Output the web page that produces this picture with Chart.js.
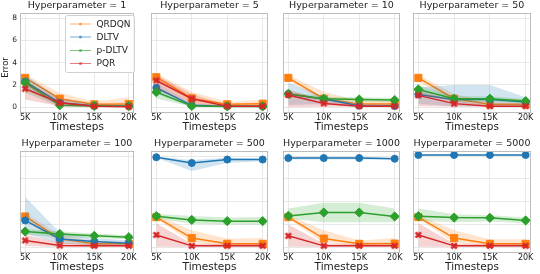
<!DOCTYPE html>
<html>
<head>
<meta charset="utf-8">
<script src="https://cdn.jsdelivr.net/npm/chart.js@4.4.0/dist/chart.umd.min.js"></script>
<style>
  body { margin: 0; background: #fff; width: 540px; height: 274px; overflow: hidden; position: relative; }
  canvas { position: absolute; }
</style>
</head>
<body>
<script>
// ---- data ----
const hyperparams = [1, 5, 10, 50, 100, 500, 1000, 5000];
const timesteps = [5000, 10000, 15000, 20000];
const xTickLabels = ['5K', '10K', '15K', '20K'];
const yTicks = [0, 2, 4, 6, 8];
const methods = ['QRDQN', 'DLTV', 'p-DLTV', 'PQR'];

// one row per hyperparameter panel
const qrdqnMean = [
  [2.64, 0.77, 0.27, 0.30], [2.70, 0.80, 0.27, 0.33], [2.64, 0.77, 0.30, 0.30], [2.64, 0.77, 0.27, 0.27],
  [2.70, 0.73, 0.30, 0.30], [2.64, 0.80, 0.30, 0.30], [2.64, 0.76, 0.30, 0.32], [2.64, 0.80, 0.30, 0.30]];
const qrdqnLow = [
  [2.30, 0.30, 0.10, 0.05], [2.20, 0.30, 0.10, 0.10], [2.40, 0.50, 0.10, 0.10], [2.30, 0.50, 0.10, 0.10],
  [2.30, 0.40, 0.10, 0.10], [2.50, 0.40, 0.10, 0.10], [2.50, 0.40, 0.10, 0.10], [2.50, 0.40, 0.10, 0.10]];
const qrdqnHigh = [
  [2.95, 1.30, 0.50, 0.90], [3.00, 1.40, 0.50, 0.65], [2.90, 1.40, 0.60, 0.60], [2.90, 1.20, 0.50, 0.50],
  [3.00, 1.10, 0.50, 0.50], [2.80, 1.50, 0.75, 0.80], [2.80, 1.50, 0.60, 0.80], [2.80, 1.50, 0.70, 0.70]];

const dltvMean = [
  [2.30, 0.40, 0.15, 0.12], [1.75, 0.18, 0.10, 0.10], [1.20, 0.75, 0.15, 0.12], [1.15, 0.70, 0.70, 0.47],
  [2.35, 0.73, 0.50, 0.35], [7.90, 7.40, 7.70, 7.70], [7.83, 7.83, 7.83, 7.77], [8.10, 8.10, 8.10, 8.10]];
const dltvLow = [
  [1.60, 0.15, 0.05, 0.05], [1.20, 0.05, 0.03, 0.03], [0.20, 0.30, 0.05, 0.05], [0.30, 0.10, 0.10, 0.10],
  [1.20, 0.30, 0.20, 0.15], [7.85, 6.70, 7.40, 7.55], [7.70, 7.70, 7.70, 7.70], [8.05, 8.05, 8.05, 8.05]];
const dltvHigh = [
  [2.90, 0.80, 0.30, 0.20], [2.20, 0.30, 0.20, 0.20], [2.20, 1.00, 0.30, 0.25], [1.80, 2.00, 2.00, 0.90],
  [4.40, 1.30, 0.80, 0.60], [7.95, 7.65, 7.85, 7.80], [7.95, 7.95, 7.95, 7.85], [8.15, 8.15, 8.15, 8.15]];

const pdltvMean = [
  [2.20, 0.18, 0.12, 0.10], [1.36, 0.12, 0.08, 0.08], [1.20, 0.77, 0.70, 0.65], [1.60, 0.77, 0.77, 0.56],
  [1.38, 1.17, 1.00, 0.88], [2.73, 2.40, 2.29, 2.29], [2.75, 3.05, 3.05, 2.70], [2.73, 2.60, 2.58, 2.35]];
const pdltvLow = [
  [1.30, 0.05, 0.05, 0.05], [0.80, 0.05, 0.03, 0.03], [0.90, 0.60, 0.50, 0.45], [1.20, 0.50, 0.50, 0.40],
  [1.10, 0.90, 0.80, 0.70], [2.50, 2.05, 2.00, 2.00], [2.50, 2.20, 2.20, 2.20], [2.30, 2.20, 2.25, 2.10]];
const pdltvHigh = [
  [2.50, 0.35, 0.20, 0.15], [1.80, 0.20, 0.15, 0.15], [1.40, 0.95, 0.90, 0.85], [2.00, 1.00, 1.00, 0.75],
  [1.60, 1.40, 1.20, 1.05], [2.95, 2.75, 2.60, 2.65], [3.40, 3.90, 3.90, 3.40], [3.40, 2.90, 2.80, 2.60]];

const pqrMean = [
  [1.66, 0.40, 0.10, 0.06], [2.40, 0.77, 0.10, 0.10], [1.10, 0.35, 0.10, 0.10], [1.07, 0.33, 0.10, 0.10],
  [0.59, 0.15, 0.12, 0.12], [1.08, 0.12, 0.12, 0.12], [1.00, 0.12, 0.12, 0.12], [1.08, 0.12, 0.12, 0.12]];
const pqrLow = [
  [0.70, 0.10, 0.02, 0.02], [1.60, 0.30, 0.03, 0.03], [0.00, 0.05, 0.03, 0.03], [0.10, 0.05, 0.03, 0.03],
  [0.10, 0.03, 0.03, 0.03], [0.05, 0.03, 0.03, 0.03], [0.05, 0.03, 0.03, 0.03], [0.05, 0.03, 0.03, 0.03]];
const pqrHigh = [
  [2.30, 0.70, 0.20, 0.12], [2.90, 1.20, 0.20, 0.20], [1.60, 0.60, 0.20, 0.20], [1.50, 0.60, 0.20, 0.20],
  [1.10, 0.40, 0.25, 0.25], [2.10, 0.30, 0.30, 0.30], [2.00, 0.30, 0.30, 0.30], [2.10, 0.30, 0.30, 0.30]];

const means = [qrdqnMean, dltvMean, pdltvMean, pqrMean];
const lows = [qrdqnLow, dltvLow, pdltvLow, pqrLow];
const highs = [qrdqnHigh, dltvHigh, pdltvHigh, pqrHigh];

// ---- styling ----
const colors = ['#ff7f0e', '#1f77b4', '#2ca02c', '#d62728'];
const legendColors = ['rgba(255,127,14,0.6)', 'rgba(31,119,180,0.6)', 'rgba(44,160,44,0.6)', 'rgba(214,39,40,0.6)'];
const bands = ['rgba(255,127,14,0.2)', 'rgba(31,119,180,0.2)', 'rgba(44,160,44,0.2)', 'rgba(214,39,40,0.2)'];
const FONT = "'DejaVu Sans', sans-serif";

function makeX(color, size, lw) {
  const c = document.createElement('canvas');
  c.width = size; c.height = size;
  const g = c.getContext('2d');
  const e = lw / 2;
  g.strokeStyle = color; g.lineWidth = lw;
  g.beginPath();
  g.moveTo(e, e); g.lineTo(size - e, size - e);
  g.moveTo(size - e, e); g.lineTo(e, size - e);
  g.stroke();
  return c;
}
const markers = ['rect', 'circle', 'rectRot', makeX(colors[3], 8, 2.6)];
const markerRadius = [5, 3.5, 4.6, 4];

const plotLeft = [20, 151, 283, 413];
const plotRight = [136, 270, 402, 533];
const rowTop = [13, 151];
const rowBottom = [112, 252];

function pts(arr) {
  return timesteps.map((t, i) => ({ x: t, y: arr[i] }));
}

const panelDecor = {
  id: 'panelDecor',
  afterDatasetsDraw(chart, args, opts) {
    const a = chart.chartArea, ctx = chart.ctx;
    ctx.save();
    ctx.strokeStyle = '#bdbdbd';
    ctx.lineWidth = 1;
    ctx.strokeRect(Math.round(a.left) + 0.5, Math.round(a.top) + 0.5,
      Math.round(a.right - a.left) - 1, Math.round(a.bottom - a.top));
    ctx.restore();
  },
  afterDraw(chart, args, opts) {
    const a = chart.chartArea, ctx = chart.ctx;
    ctx.save();
    ctx.fillStyle = '#222';
    ctx.textAlign = 'center';
    ctx.textBaseline = 'middle';
    ctx.font = '9.5px ' + FONT;
    ctx.fillText(opts.title, (a.left + a.right) / 2, a.top - 7.5);
    ctx.font = '10.5px ' + FONT;
    ctx.fillText('Timesteps', (a.left + a.right) / 2, a.bottom + 15.5);
    if (opts.yLabel) {
      ctx.translate(6, (a.top + a.bottom) / 2 + 5);
      ctx.rotate(-Math.PI / 2);
      ctx.font = '8.5px ' + FONT;
      ctx.fillText('Error', 0, 0);
    }
    ctx.restore();
    if (opts.legend) drawLegend(chart);
  }
};

function drawLegend(chart) {
  const ctx = chart.ctx;
  ctx.save();
  ctx.fillStyle = 'rgba(255,255,255,0.85)';
  ctx.strokeStyle = '#d0d0d0';
  ctx.lineWidth = 1;
  ctx.beginPath();
  ctx.roundRect(65.5, 15.5, 69, 57, 2);
  ctx.fill();
  ctx.stroke();
  const rows = [24, 37, 50.5, 63.5];
  methods.forEach((m, k) => {
    const y = rows[k];
    ctx.strokeStyle = legendColors[k];
    ctx.lineWidth = 1;
    ctx.beginPath();
    ctx.moveTo(70, y); ctx.lineTo(91, y);
    ctx.stroke();
    ctx.fillStyle = legendColors[k];
    ctx.beginPath();
    ctx.arc(80.5, y, 1.6, 0, Math.PI * 2);
    ctx.fill();
    ctx.fillStyle = '#222';
    ctx.font = '9px ' + FONT;
    ctx.textAlign = 'left';
    ctx.textBaseline = 'middle';
    ctx.fillText(m, 96.5, y + 0.5);
  });
  ctx.restore();
}

hyperparams.forEach((h, p) => {
  const r = Math.floor(p / 4), c = p % 4;
  const left = c === 0 ? 0 : plotLeft[c] - 10;
  const width = plotRight[c] + 4 - left;
  const top = r * 137;
  const height = 137;
  const canvas = document.createElement('canvas');
  canvas.width = width; canvas.height = height;
  canvas.style.left = left + 'px';
  canvas.style.top = top + 'px';
  canvas.style.width = width + 'px';
  canvas.style.height = height + 'px';
  document.body.appendChild(canvas);

  const datasets = [];
  methods.forEach((m, k) => {
    datasets.push({ data: pts(lows[k][p]), borderWidth: 0, pointRadius: 0, fill: false, borderColor: 'rgba(0,0,0,0)' });
    datasets.push({ data: pts(highs[k][p]), borderWidth: 0, pointRadius: 0, fill: '-1', backgroundColor: bands[k], borderColor: 'rgba(0,0,0,0)' });
    datasets.push({
      label: m, data: pts(means[k][p]), borderColor: colors[k], borderWidth: 1.5, fill: false,
      pointStyle: markers[k], pointRadius: markerRadius[k], pointBackgroundColor: colors[k],
      pointBorderColor: colors[k], pointBorderWidth: 1
    });
  });
  datasets.forEach((d, i) => { d.order = -i; d.tension = 0; });

  const showY = p === 0;
  new Chart(canvas, {
    type: 'line',
    data: { datasets },
    options: {
      responsive: false,
      animation: false,
      devicePixelRatio: 1,
      layout: { padding: { left: 0, right: 4, top: rowTop[r] - top, bottom: 0 } },
      plugins: {
        legend: { display: false },
        tooltip: { enabled: false },
        panelDecor: { title: 'Hyperparameter = ' + h, yLabel: showY, legend: p === 0 }
      },
      scales: {
        x: {
          type: 'linear', min: 4250, max: 20750,
          afterBuildTicks: s => { s.ticks = timesteps.map(v => ({ value: v })); },
          afterFit: s => { s.height = top + height - rowBottom[r]; },
          ticks: {
            callback: v => xTickLabels[timesteps.indexOf(v)],
            font: { family: FONT, size: 8 }, color: '#222', padding: 1, maxRotation: 0, autoSkip: false
          },
          grid: { color: '#e3e3e3', lineWidth: 0.8, drawTicks: false },
          border: { display: false }
        },
        y: {
          min: -0.42, max: 8.45,
          afterBuildTicks: s => { s.ticks = yTicks.map(v => ({ value: v })); },
          afterFit: s => { s.width = plotLeft[c] - left; },
          ticks: { display: showY, font: { family: FONT, size: 7.5 }, color: '#222', padding: 3 },
          grid: { color: '#e3e3e3', lineWidth: 0.8, drawTicks: false },
          border: { display: false }
        }
      }
    },
    plugins: [panelDecor]
  });
});
</script>
</body>
</html>
